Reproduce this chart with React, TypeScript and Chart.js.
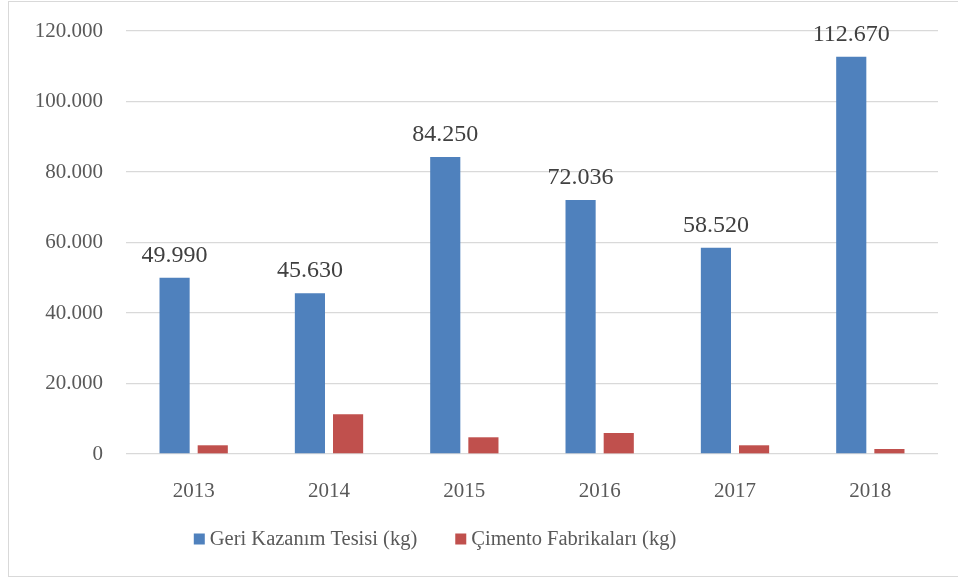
import React, { useEffect, useRef } from "react";
import { Chart, registerables } from "chart.js";

Chart.register(...registerables);

const years = ["2013", "2014", "2015", "2016", "2017", "2018"];
const geriKazanim = [49990, 45630, 84250, 72036, 58520, 112670];
const cimento = [2470, 11260, 4740, 5960, 2470, 1420];
const seriesNames = ["Geri Kazanım Tesisi (kg)", "Çimento Fabrikaları (kg)"];
const seriesColors = ["#4f81bd", "#c0504d"];

const FONT = "'Liberation Serif', 'DejaVu Serif', serif";

const fmt = (v: number) => {
  const s = Math.round(v).toString();
  return s.replace(/\B(?=(\d{3})+(?!\d))/g, ".");
};

const dataLabelPlugin = {
  id: "dataLabels",
  afterDatasetsDraw(chart: any) {
    const ctx = chart.ctx;
    const meta = chart.getDatasetMeta(0);
    ctx.save();
    ctx.font = `24px ${FONT}`;
    ctx.fillStyle = "#404040";
    ctx.textAlign = "center";
    ctx.textBaseline = "alphabetic";
    meta.data.forEach((bar: any, i: number) => {
      ctx.fillText(fmt(geriKazanim[i]), bar.x, bar.y - 16);
    });
    ctx.restore();
  },
};

const legendPlugin = {
  id: "customLegend",
  afterDraw(chart: any) {
    const ctx = chart.ctx;
    ctx.save();
    ctx.font = `20.5px ${FONT}`;
    const box = 11;
    const gapBoxText = 5;
    const gapItems = 38;
    const widths = seriesNames.map((n) => box + gapBoxText + ctx.measureText(n).width);
    const total = widths.reduce((a, b) => a + b, 0) + gapItems * (widths.length - 1);
    const center = 435;
    const cy = 539;
    let x = center - total / 2;
    ctx.textBaseline = "middle";
    ctx.textAlign = "left";
    seriesNames.forEach((n, i) => {
      ctx.fillStyle = seriesColors[i];
      ctx.fillRect(x, cy - box / 2, box, box);
      ctx.fillStyle = "#595959";
      ctx.fillText(n, x + box + gapBoxText, cy + 1);
      x += widths[i] + gapItems;
    });
    ctx.restore();
  },
};

export default function App() {
  const ref = useRef<HTMLCanvasElement | null>(null);

  useEffect(() => {
    if (!ref.current) return;
    const chart = new Chart(ref.current, {
      type: "bar",
      data: {
        labels: years,
        datasets: [
          {
            label: seriesNames[0],
            data: geriKazanim,
            backgroundColor: seriesColors[0],
            categoryPercentage: 0.564,
            barPercentage: 0.79,
          },
          {
            label: seriesNames[1],
            data: cimento,
            backgroundColor: seriesColors[1],
            categoryPercentage: 0.564,
            barPercentage: 0.79,
          },
        ],
      },
      options: {
        responsive: false,
        animation: false,
        devicePixelRatio: 1,
        layout: { padding: { top: 31, right: 20, bottom: 0, left: 0 } },
        plugins: {
          legend: { display: false },
          tooltip: { enabled: false },
          title: { display: false },
        },
        scales: {
          x: {
            grid: { display: false },
            border: { display: false },
            ticks: {
              color: "#595959",
              font: { family: FONT, size: 21 },
              padding: 17,
            },
            afterFit: (scale: any) => {
              scale.height = 124;
              scale.paddingLeft = 0;
              scale.paddingRight = 0;
            },
          },
          y: {
            min: 0,
            max: 120000,
            ticks: {
              stepSize: 20000,
              color: "#595959",
              font: { family: FONT, size: 21 },
              padding: 23,
              callback: (v: any) => fmt(Number(v)),
            },
            grid: { color: "#d9d9d9", lineWidth: 1.3, drawTicks: false },
            border: { display: false },
            afterFit: (scale: any) => {
              scale.width = 126;
              scale.paddingTop = 0;
              scale.paddingBottom = 0;
            },
          },
        },
      },
      plugins: [dataLabelPlugin, legendPlugin],
    });
    return () => chart.destroy();
  }, []);

  return (
    <div style={{ position: "absolute", left: 0, top: 0, width: 958, height: 578, background: "#fff", overflow: "hidden" }}>
      <div
        style={{
          position: "absolute",
          left: 8,
          top: 1,
          width: 970,
          height: 576,
          border: "1px solid #d9d9d9",
          boxSizing: "border-box",
        }}
      />
      <canvas ref={ref} width={958} height={578} style={{ position: "absolute", left: 0, top: 0, width: 958, height: 578 }} />
    </div>
  );
}
